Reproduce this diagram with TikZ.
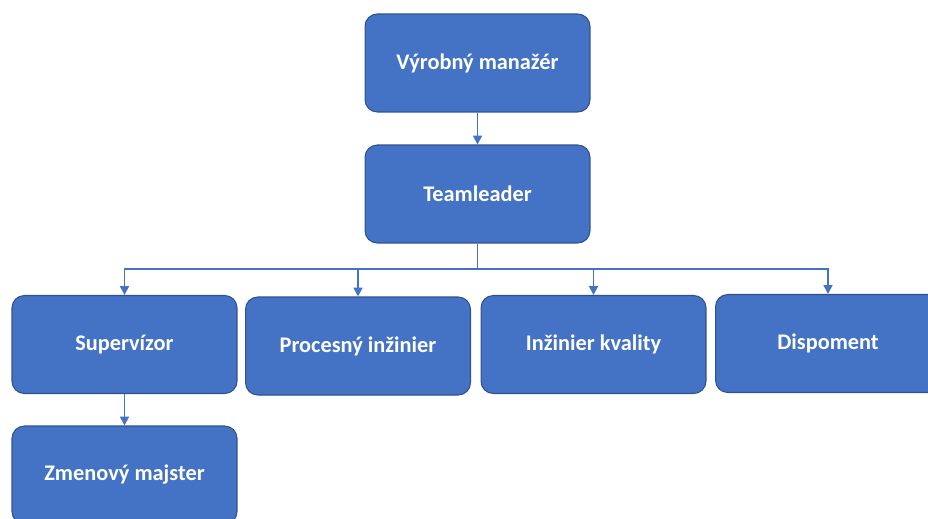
\documentclass[tikz,border=0pt]{standalone}
\usepackage{fontspec}
\setmainfont{Carlito}
\usetikzlibrary{arrows.meta}
\definecolor{boxblue}{HTML}{4472C4}
\definecolor{boxedge}{HTML}{2F528F}
\tikzset{
    orgbox/.style={rectangle, rounded corners=7pt, draw=boxedge, line width=0.6pt, fill=boxblue,
        text=white, font=\bfseries\fontsize{12.7}{14}\selectfont,
        minimum width=4.5cm, minimum height=1.96cm, inner sep=0pt},
    link/.style={draw=boxblue, line width=1.1pt},
    linkarrow/.style={link, -{Triangle[length=5pt,width=5pt]}}
}
\begin{document}
\begin{tikzpicture}[x=0.02cm, y=-0.02cm]
            \clip (0, 0) rectangle (928, 518);
            \useasboundingbox (0, 0) rectangle (928, 518);
            \node[orgbox] (VM) at (477.5, 63) {Výrobný manažér};
            \node[orgbox] (TL) at (477.5, 194) {Teamleader};
            \node[orgbox] (SV) at (124.5, 344.5) {Supervízor};
            \node[orgbox] (PI) at (358, 346) {Procesný inžinier};
            \node[orgbox] (IK) at (593.5, 344.5) {Inžinier kvality};
            \node[orgbox] (DP) at (828, 343.5) {Dispoment};
            \node[orgbox] (ZM) at (124.5, 475) {Zmenový majster};
            \coordinate (bus) at (477.5, 269);
            \draw[linkarrow] (VM) -- (TL);
            \draw[link] (TL) -- (bus);
            \draw[linkarrow] (bus) -| (SV);
            \draw[linkarrow] (bus) -| (PI);
            \draw[linkarrow] (bus) -| (IK);
            \draw[linkarrow] (bus) -| (DP);
            \draw[linkarrow] (SV) -- (ZM);
        \end{tikzpicture}
\end{document}
